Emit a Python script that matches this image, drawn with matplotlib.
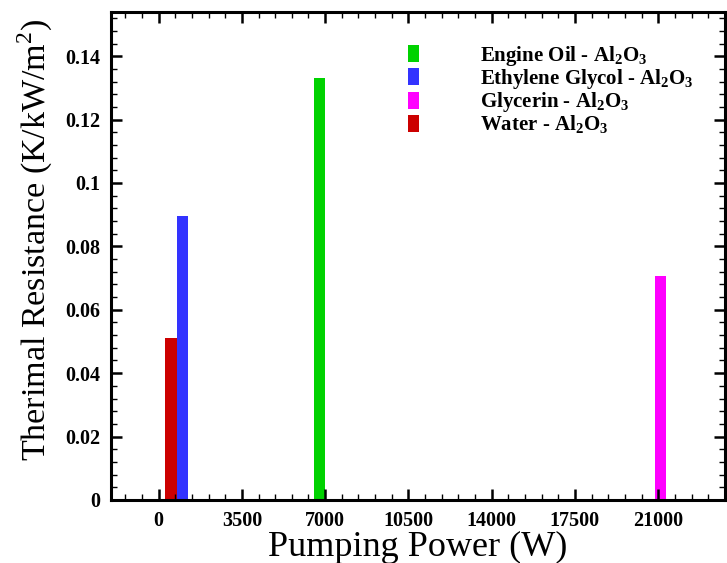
import numpy as np
import matplotlib
matplotlib.use("Agg")
from matplotlib import pyplot as plt
from matplotlib.ticker import MultipleLocator, FuncFormatter

plt.rcParams['font.family'] = 'Liberation Serif'
plt.rcParams['mathtext.fontset'] = 'custom'
plt.rcParams['mathtext.rm'] = 'Liberation Serif'
plt.rcParams['mathtext.bf'] = 'Liberation Serif:bold'

# data
fluids = ['Engine Oil', 'Ethylene Glycol', 'Glycerin', 'Water']
pumping_power = [6760, 1000, 21100, 520]      # W
resistance = [0.133, 0.0895, 0.0705, 0.051]   # K/kW/m^2
colors = ['#00d200', '#3333ff', '#ff00ff', '#cc0000']
bar_width = 480

fig = plt.figure(figsize=(7.27, 5.63), dpi=100)
ax = fig.add_axes([0.1527, 0.112, 0.997 - 0.1527, 0.979 - 0.112])

for name, x, y, c in zip(fluids, pumping_power, resistance, colors):
    ax.bar(x, y, width=bar_width, color=c, label=name + r' - Al$_\mathbf{2}$O$_\mathbf{3}$')

ax.set_xlim(-2000, 23800)
ax.set_ylim(0, 0.154)
ax.xaxis.set_major_locator(MultipleLocator(3500))
ax.xaxis.set_minor_locator(MultipleLocator(700))
ax.yaxis.set_major_locator(MultipleLocator(0.02))
ax.yaxis.set_minor_locator(MultipleLocator(0.004))
ax.yaxis.set_major_formatter(FuncFormatter(lambda v, p: '0' if v == 0 else '%g' % round(v, 3)))

ax.tick_params(which='both', direction='in', top=True, right=True)
ax.tick_params(which='major', length=8, width=1.8, labelsize=14.5, pad=8)
ax.tick_params(which='minor', length=4.5, width=1.0)
for lbl in ax.get_xticklabels() + ax.get_yticklabels():
    lbl.set_fontweight('bold')
for s in ax.spines.values():
    s.set_linewidth(2.2)

ax.set_xlabel('Pumping Power (W)', fontsize=26, labelpad=0)
ax.set_ylabel(r'Therimal Resistance (K/kW/m$^\mathrm{2}$)', fontsize=24.5)
ax.yaxis.set_label_coords(-0.092, 0.533)

leg = ax.legend(loc='upper left', bbox_to_anchor=(0.4837, 0.935), frameon=False,
                prop={'weight': 'bold', 'size': 15}, handlelength=0.55, handleheight=0.87,
                handletextpad=2.9, labelspacing=-0.03, borderpad=0, borderaxespad=0)

fig.savefig('out.png', dpi=100)
